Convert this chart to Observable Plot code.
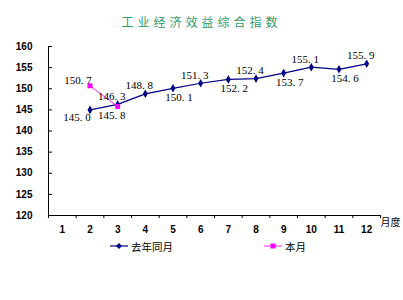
<!DOCTYPE html>
<html>
<head>
<meta charset="utf-8">
<script src="https://cdn.jsdelivr.net/npm/d3@7"></script>
<script src="https://cdn.jsdelivr.net/npm/@observablehq/plot@0.6"></script>
<style>
  html, body { margin: 0; padding: 0; background: #fff; }
  #wrap { position: relative; width: 403px; height: 300px; overflow: hidden; }
  #title { position: absolute; left: 0; width: 403px; top: 13px; text-align: center; padding-left: 0px;
           font-family: "Noto Sans CJK SC", sans-serif; font-size: 12px; letter-spacing: 4px; color: #2f9a6a; }
  #legend { position: absolute; top: 238px; left: 0; width: 403px; height: 16px;
            font-family: "Noto Sans CJK SC", sans-serif; font-size: 10.5px; color: #000; }
  .item { position: absolute; top: 0; display: flex; align-items: center; height: 16px; }
  .item svg { margin-right: 3px; }
</style>
</head>
<body>
<div id="wrap">
  <div id="chart"></div>
  <div id="title"></div>
  <div id="legend"></div>
</div>
<script>
const titleText = "工业经济效益综合指数";
const months = [1,2,3,4,5,6,7,8,9,10,11,12];
const xAxisUnit = "月度";
const yTicks = [120,125,130,135,140,145,150,155,160];
const seriesNames = ["去年同月", "本月"];
const lastYearMonths = [2,3,4,5,6,7,8,9,10,11,12];
const lastYearValues = [145.0,146.3,148.8,150.1,151.3,152.2,152.4,153.7,155.1,154.6,155.9];
const thisYearMonths = [2,3];
const thisYearValues = [150.7,145.8];

const colors = {"去年同月": "#000080", "本月": "#ff00ff"};
const widths = {"去年同月": 1.2, "本月": 0.9};

const rows = [
  ...lastYearMonths.map((m,i)=>({series: seriesNames[0], month: m, value: lastYearValues[i]})),
  ...thisYearMonths.map((m,i)=>({series: seriesNames[1], month: m, value: thisYearValues[i]}))
];
const fmt = v => d3.format(".1f")(v).replace(".", ". ");

// label placement (pixel offsets) per point
function place(d){
  if (d.series === seriesNames[1]) return d.month === 2 ? "ul" : "dl";
  if (d.month === 2) return "ll";
  return [3,4,6,8,10,12].includes(d.month) ? "up" : "dn";
}
const offsets = {up:[-6,-8], dn:[6,9], ll:[-13,8], ul:[-12,-5], dl:[-6,9]};

const boundaries = d3.range(0.5, 13, 1);

const labelMarks = Object.entries(offsets).map(([k,[dx,dy]]) =>
  Plot.text(rows.filter(d => place(d) === k), {
    x: "month", y: "value", text: d => fmt(d.value), dx, dy,
    fontFamily: "Liberation Serif, serif", fontSize: 11, fill: "#000"
  })
);

const chart = Plot.plot({
  width: 403, height: 300,
  marginLeft: 48, marginRight: 23, marginTop: 46, marginBottom: 85,
  style: {fontFamily: "Liberation Sans, Arial, sans-serif", fontSize: "10px", color: "#000", background: "transparent"},
  x: {type: "linear", domain: [0.5, 12.5]},
  y: {type: "linear", domain: [120, 160]},
  marks: [
    Plot.ruleX([0.5], {y1: 120, y2: 160, stroke: "#000", strokeWidth: 1}),
    Plot.ruleY([120], {stroke: "#000", strokeWidth: 1}),
    Plot.tickY(yTicks, {y: d => d, stroke: "#000", insetRight: 328}),
    Plot.axisY({ticks: yTicks, tickSize: 0, tickPadding: 16, label: null, tickFormat: d => d, fontWeight: "bold"}),
    Plot.axisX({ticks: boundaries, tickSize: 3, tickFormat: () => "", label: null}),
    Plot.axisX({ticks: months, tickSize: 0, tickPadding: 10, tickFormat: d => d, label: null, fontWeight: "bold"}),
    ...seriesNames.map(s => Plot.line(rows.filter(d => d.series === s), {x: "month", y: "value", stroke: colors[s], strokeWidth: widths[s]})),
    Plot.dot(rows.filter(d => d.series === seriesNames[0]), {x: "month", y: "value", symbol: "diamond", r: 2.6, fill: colors[seriesNames[0]], stroke: "none"}),
    Plot.dot(rows.filter(d => d.series === seriesNames[1]), {x: "month", y: "value", symbol: "square", r: 2.8, fill: colors[seriesNames[1]], stroke: "none"}),
    ...labelMarks,
    Plot.text([xAxisUnit], {x: 12.5, y: 120, text: d => d, dx: 0, dy: 7, textAnchor: "start", fontFamily: "Noto Sans CJK SC, sans-serif", fontSize: 10})
  ]
});
document.getElementById("chart").appendChild(chart);
document.getElementById("title").textContent = titleText;

const legend = document.getElementById("legend");
const legendX = [110, 264];
seriesNames.forEach((name, i) => {
  const item = document.createElement("div");
  item.className = "item";
  item.style.left = legendX[i] + "px";
  const sym = i === 0
    ? `<path d="M9,5 L12,8 L9,11 L6,8 Z" fill="${colors[name]}"/>`
    : `<rect x="6.5" y="5.5" width="5" height="5" fill="${colors[name]}"/>`;
  item.innerHTML = `<svg width="18" height="16"><line x1="0" x2="18" y1="8" y2="8" stroke="${colors[name]}" stroke-width="${widths[name]}"/>${sym}</svg><span>${name}</span>`;
  legend.appendChild(item);
});
</script>
</body>
</html>
